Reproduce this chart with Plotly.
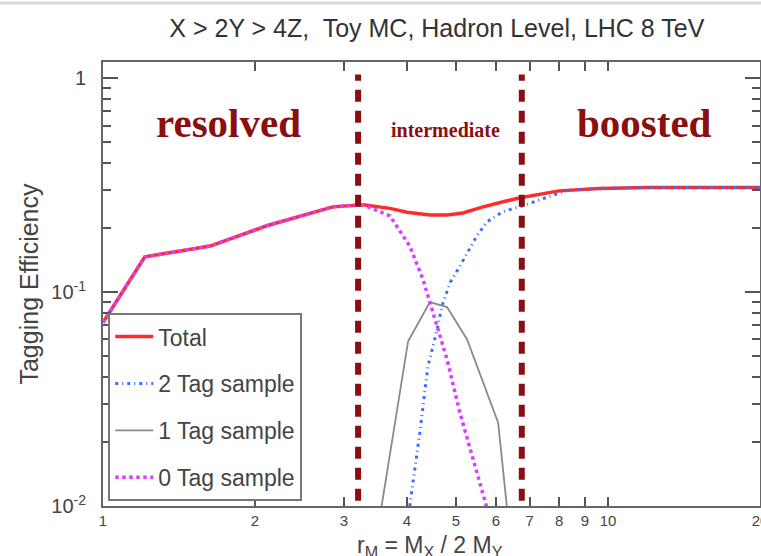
import math
import plotly.graph_objects as go

# Tagging efficiency versus r_M for the toy MC sample
r_total = [1.0, 1.21, 1.63, 2.11, 2.85, 3.27, 3.7, 4.0, 4.44, 4.8, 5.16, 5.66, 6.2, 6.7, 7.5, 8.0, 9.6, 12.0, 20.0]
eff_total = [0.072, 0.146, 0.164, 0.204, 0.250, 0.256, 0.246, 0.236, 0.229, 0.229, 0.234, 0.250, 0.264, 0.276, 0.289, 0.297, 0.305, 0.308, 0.308]

r_2tag = [4.0, 4.05, 4.24, 4.40, 4.59, 4.69, 4.87, 5.09, 5.5, 5.76, 6.2, 6.75, 7.8, 8.3, 9.6, 12.0, 20.0]
eff_2tag = [0.0088, 0.0100, 0.022, 0.045, 0.067, 0.086, 0.111, 0.132, 0.183, 0.213, 0.238, 0.252, 0.284, 0.298, 0.305, 0.308, 0.308]

r_1tag = [3.55, 4.02, 4.44, 4.8, 5.26, 6.06, 6.35]
eff_1tag = [0.0095, 0.0589, 0.0897, 0.085, 0.060, 0.0245, 0.0085]

r_0tag = [1.0, 1.21, 1.63, 2.11, 2.85, 3.27, 3.7, 4.05, 4.3, 4.44, 4.8, 5.09, 5.78]
eff_0tag = [0.072, 0.146, 0.164, 0.204, 0.250, 0.256, 0.227, 0.164, 0.115, 0.090, 0.0485, 0.0273, 0.0095]

# Boundaries between kinematic regimes and their labels
region_bounds = [3.2, 6.75]
region_names = ["resolved", "intermediate", "boosted"]
region_label_r = [1.77, 4.76, 11.8]

x_tickvals = [1, 2, 3, 4, 5, 6, 7, 8, 9, 10, 20]
x_ticktext = ["1", "2", "3", "4", "5", "6", "7", "8", "9", "10", "20"]
y_tickvals = [0.01, 0.1, 1]
y_ticktext = ["10<sup>-2</sup>", "10<sup>-1</sup>", "1"]
y_minorvals = [m * 10.0 ** e for e in (-2, -1) for m in range(2, 10)]

DARKRED = "#8a1010"
SANS = "Liberation Sans, Arial, sans-serif"
SERIF = "Liberation Serif, Times New Roman, serif"

fig = go.Figure()

fig.add_trace(go.Scatter(
    x=r_total, y=eff_total, mode="lines", name="Total", legendgroup="a",
    line=dict(color="#ff2b2b", width=3.5)))
fig.add_trace(go.Scatter(
    x=r_2tag, y=eff_2tag, mode="lines", name="2 Tag sample", legendgroup="b",
    line=dict(color="#3d6dff", width=3, dash="3px,4px,1px,4px")))
fig.add_trace(go.Scatter(
    x=r_1tag, y=eff_1tag, mode="lines", name="1 Tag sample", legendgroup="c",
    line=dict(color="#8a8a8a", width=1.8)))
fig.add_trace(go.Scatter(
    x=r_0tag, y=eff_0tag, mode="lines", name="0 Tag sample", legendgroup="d",
    line=dict(color="#d940ff", width=3.5, dash="dot")))

# Dashed regime boundaries
for rb in region_bounds:
    fig.add_shape(type="line", xref="x", yref="paper", x0=rb, x1=rb, y0=0.012, y1=0.972,
                  line=dict(color=DARKRED, width=6, dash="12px,9px"))

# Regime labels (annotation positions on a log axis are given in log10 units)
for name, rx in zip(region_names, region_label_r):
    small = name == "intermediate"
    fig.add_annotation(x=math.log10(rx), y=0.847 if small else 0.862, xref="x", yref="paper",
                       text=name, showarrow=False, xanchor="center", yanchor="middle",
                       font=dict(family=SERIF, size=20 if small else 41, color=DARKRED, weight="bold"))

# x-axis title, set low so it sits against the bottom edge
fig.add_annotation(x=0.498, y=-0.092, xref="paper", yref="paper",
                   text="r<sub>M</sub> = M<sub>X</sub> / 2 M<sub>Y</sub>", showarrow=False,
                   xanchor="center", yanchor="middle",
                   font=dict(family=SANS, size=23, color="#444444"))

# Thin rule along the top edge of the page
fig.add_shape(type="line", xref="paper", yref="paper", x0=-0.2, x1=1.01, y0=1.133, y1=1.133,
              line=dict(color="#d8d8d8", width=3))

fig.update_layout(
    width=761, height=556,
    margin=dict(l=103, r=1, t=62, b=50),
    paper_bgcolor="white", plot_bgcolor="white",
    title=dict(text="X > 2Y > 4Z,  Toy MC, Hadron Level, LHC 8 TeV",
               x=0.574, xanchor="center", y=0.950, yanchor="middle",
               font=dict(family=SANS, size=25, color="#333333")),
    showlegend=True,
    legend=dict(x=0.008, y=0.011, xanchor="left", yanchor="bottom",
                bgcolor="white", bordercolor="#777777", borderwidth=2,
                font=dict(family=SANS, size=23, color="#444444"),
                tracegroupgap=14, itemwidth=38),
)

fig.update_xaxes(
    type="log", range=[0, 1.30103], automargin=False,
    tickmode="array", tickvals=x_tickvals, ticktext=x_ticktext,
    ticks="inside", ticklen=9, tickwidth=1.5, tickcolor="#555555",
    showline=True, linecolor="#666666", linewidth=2, mirror="ticks",
    showgrid=False, zeroline=False, ticklabeloverflow="allow",
    tickfont=dict(family=SANS, size=15, color="#444444"),
)
fig.update_yaxes(
    type="log", range=[-2, 0.075], automargin=False,
    tickmode="array", tickvals=y_tickvals, ticktext=y_ticktext,
    ticks="inside", ticklen=15, tickwidth=1.5, tickcolor="#555555",
    minor=dict(tickvals=y_minorvals, ticks="inside", ticklen=8, tickwidth=1.5,
               tickcolor="#555555", showgrid=False),
    showline=True, linecolor="#666666", linewidth=2, mirror="ticks",
    showgrid=False, zeroline=False, ticklabelstandoff=11,
    tickfont=dict(family=SANS, size=20, color="#444444"),
    title=dict(text="Tagging Efficiency", font=dict(family=SANS, size=25, color="#444444"),
               standoff=6),
)

fig.write_html("out.html")
